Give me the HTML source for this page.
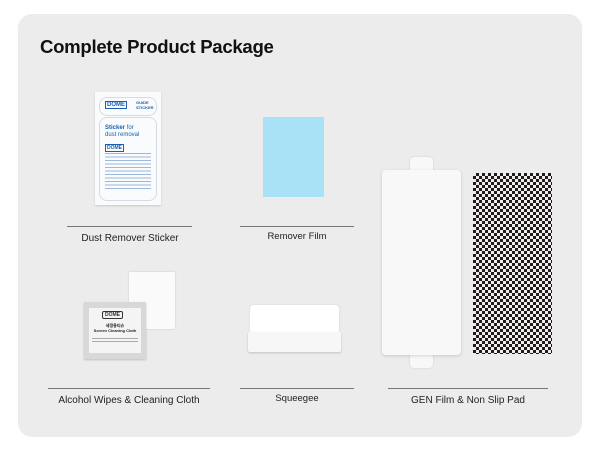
<!DOCTYPE html>
<html><head><style>
*{margin:0;padding:0;box-sizing:border-box}
body{width:600px;height:450px;background:#fff;position:relative;font-family:"Liberation Sans",sans-serif;overflow:hidden}
.card{position:absolute;left:18px;top:14px;width:564px;height:423px;background:#ececec;border-radius:14px}
.a{position:absolute}
.t{position:absolute;font-size:10px;color:#222;text-align:center}
.l{position:absolute;height:1px;background:#777}
</style></head><body>
<div class="card"></div>
<div class="a" style="left:40px;top:36px;font-size:18.6px;font-weight:bold;color:#111;letter-spacing:-0.3px">Complete Product Package</div>

<!-- sticker -->
<div class="a" style="left:95px;top:92px;width:66px;height:113px;background:#fafbfc;box-shadow:0 1px 2px rgba(0,0,0,.15)"></div>
<div class="a" style="left:99px;top:97px;width:58px;height:19px;border:1px solid #d5dbe3;border-radius:8px"></div>
<div class="a" style="left:105px;top:101px;font-size:6px;color:#1a5fb4;font-weight:bold;border:1px solid #1a5fb4;padding:0 1px">DOME</div>
<div class="a" style="left:136px;top:100px;font-size:4px;color:#1a5fb4;font-weight:bold;line-height:5px">GUIDE<br>STICKER</div>
<div class="a" style="left:99px;top:117px;width:58px;height:84px;border:1px solid #d5dbe3;border-radius:8px"></div>
<div class="a" style="left:105px;top:125px;font-size:6px;color:#1a5fb4;line-height:7px"><b>Sticker</b> for<br>dust removal</div>
<div class="a" style="left:105px;top:144px;font-size:5px;color:#1a5fb4;font-weight:bold;border:1px solid #1a5fb4;padding:0 1px">DOME</div>
<div class="a" style="left:105px;top:153px;width:46px;height:38px;background:repeating-linear-gradient(#9bb8dd 0 1px,transparent 1px 3.5px)"></div>

<div class="l" style="left:67px;top:226px;width:125px"></div>
<div class="t" style="left:50px;top:233px;width:160px">Dust Remover Sticker</div>

<!-- remover film -->
<div class="a" style="left:263px;top:117px;width:61px;height:80px;background:#a9e1f6"></div>
<div class="l" style="left:240px;top:226px;width:114px"></div>
<div class="t" style="left:230px;top:231px;width:134px;font-size:9.5px">Remover Film</div>

<!-- GEN film -->
<div class="a" style="left:410px;top:157px;width:23px;height:20px;background:#f8f8f8;border-radius:4px;box-shadow:0 0 2px rgba(0,0,0,.12)"></div>
<div class="a" style="left:410px;top:348px;width:23px;height:20px;background:#f8f8f8;border-radius:4px;box-shadow:0 0 2px rgba(0,0,0,.12)"></div>
<div class="a" style="left:382px;top:170px;width:79px;height:185px;background:#f8f8f8;border-radius:4px;box-shadow:0 1px 3px rgba(0,0,0,.15)"></div>
<div class="a" style="left:473px;top:173px;width:79px;height:181px;background:repeating-conic-gradient(#231a1a 0 25%,#eee 0 50%) 0 0/6px 6px"></div>
<div class="l" style="left:388px;top:388px;width:160px"></div>
<div class="t" style="left:388px;top:395px;width:160px">GEN Film &amp; Non Slip Pad</div>

<!-- alcohol wipes -->
<div class="a" style="left:129px;top:272px;width:46px;height:57px;background:#fafafa;box-shadow:0 0 2px rgba(0,0,0,.15)"></div>
<div class="a" style="left:84px;top:302px;width:62px;height:57px;background:#d8d8d8;box-shadow:0 1px 2px rgba(0,0,0,.2)"></div>
<div class="a" style="left:89px;top:308px;width:52px;height:45px;background:#f4f4f4"></div>
<div class="a" style="left:102px;top:311px;font-size:5px;font-weight:bold;color:#333;border:1px solid #333;border-radius:2px;padding:0 2px">DOME</div>
<div class="a" style="left:89px;top:323px;width:52px;font-size:4px;font-weight:bold;color:#222;text-align:center;line-height:5px">세정용티슈<br>Screen Cleaning Cloth</div>
<div class="a" style="left:92px;top:338px;width:46px;height:6px;background:repeating-linear-gradient(#aaa 0 1px,transparent 1px 3px)"></div>
<div class="l" style="left:48px;top:388px;width:162px"></div>
<div class="t" style="left:40px;top:395px;width:178px">Alcohol Wipes &amp; Cleaning Cloth</div>

<!-- squeegee -->
<div class="a" style="left:250px;top:305px;width:89px;height:30px;background:#fff;border-radius:4px;box-shadow:0 0 2px rgba(0,0,0,.1)"></div>
<div class="a" style="left:248px;top:332px;width:93px;height:20px;background:#f7f7f7;border-radius:2px;box-shadow:0 1px 2px rgba(0,0,0,.18)"></div>
<div class="l" style="left:240px;top:388px;width:114px"></div>
<div class="t" style="left:230px;top:393px;width:134px;font-size:9.5px">Squeegee</div>
</body></html>
